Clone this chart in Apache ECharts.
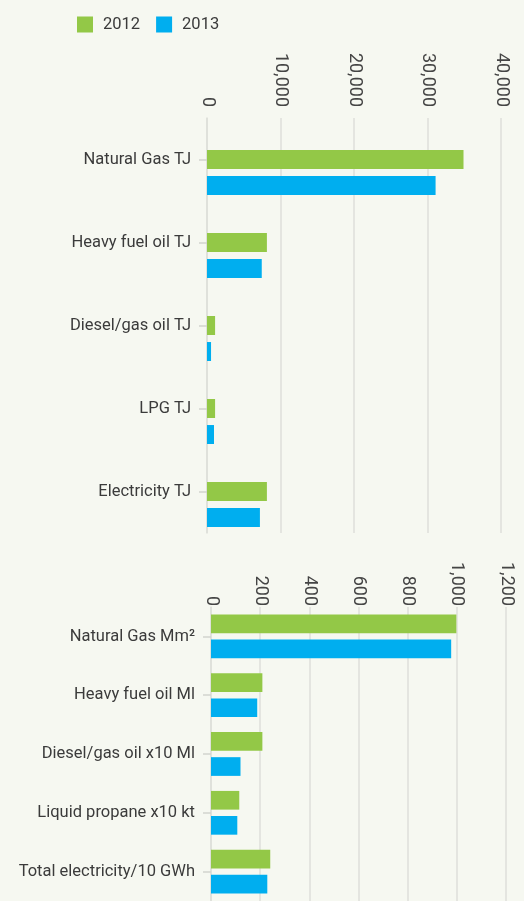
<!DOCTYPE html>
<html>
<head>
<meta charset="utf-8">
<script src="https://cdn.jsdelivr.net/npm/echarts@6/dist/echarts.min.js"></script>
<style>
html,body{margin:0;padding:0;background:#f6f8f1;}
#chart{width:524px;height:901px;}
</style>
</head>
<body>
<div id="chart"></div>
<script>
// ---- data ----
var seriesNames = ['2012', '2013'];
var topCategories = ['Natural Gas TJ', 'Heavy fuel oil TJ', 'Diesel/gas oil TJ', 'LPG TJ', 'Electricity TJ'];
var top2012 = [34900, 8150, 1100, 1100, 8150];
var top2013 = [31100, 7450, 550, 950, 7200];
var topTicks = [0, 10000, 20000, 30000, 40000];

var bottomCategories = ['Natural Gas Mm\u00b2', 'Heavy fuel oil Ml', 'Diesel/gas oil x10 Ml', 'Liquid propane x10 kt', 'Total electricity/10 GWh'];
var bottom2012 = [998, 209, 209, 115, 241];
var bottom2013 = [977, 188, 120, 107, 229];
var bottomTicks = [0, 200, 400, 600, 800, 1000, 1200];

// ---- styles ----
var GREEN = '#93c847';
var BLUE = '#00aeef';
var GRID_LINE = '#dedfda';
var FONT = 'Roboto';

function fmt(v){ return String(v).replace(/\B(?=(\d{3})+(?!\d))/g, ','); }

function valueAxis(gridIndex, ticks, margin){
  return {
    type: 'value', gridIndex: gridIndex, position: 'top',
    min: ticks[0], max: ticks[ticks.length-1], interval: ticks[1]-ticks[0],
    axisLine: {show:false}, axisTick: {show:false},
    splitLine: {show:true, lineStyle:{color:GRID_LINE, width:1.5}},
    axisLabel: {rotate:90, margin:margin, fontSize:18, fontFamily:FONT, color:'#454545', formatter: fmt}
  };
}
function catAxis(gridIndex, cats){
  return {
    type: 'category', gridIndex: gridIndex, inverse: true, data: cats,
    axisLine: {show:true, lineStyle:{color:GRID_LINE, width:1.5}},
    axisTick: {show:true, length:8, alignWithLabel:true, lineStyle:{color:'#d2d3ce', width:1.5}},
    axisLabel: {margin:16, fontSize:16.5, fontFamily:FONT, color:'#3b3b3b'}
  };
}

var chart = echarts.init(document.getElementById('chart'), null, {renderer:'canvas'});
chart.setOption({
  backgroundColor: '#f6f8f1',
  animation: false,
  legend: {
    data: seriesNames, left: 77, top: 16, padding: 0,
    itemWidth: 16, itemHeight: 16, itemGap: 16, icon: 'rect',
    textStyle: {fontSize:16.5, fontFamily:FONT, color:'#3b3b3b', padding:[0,0,0,5]}
  },
  grid: [
    {left: 207, right: 23, top: 118, height: 415, containLabel:false},
    {left: 211, right: 18, top: 607, height: 306, containLabel:false}
  ],
  xAxis: [valueAxis(0, topTicks, 11), valueAxis(1, bottomTicks, 1)],
  yAxis: [catAxis(0, topCategories), catAxis(1, bottomCategories)],
  series: [
    {name:'pad', type:'bar', xAxisIndex:0, yAxisIndex:0, data: topCategories.map(function(){return null;}), barWidth:19, barGap:'37%', silent:true},
    {name:seriesNames[0], type:'bar', xAxisIndex:0, yAxisIndex:0, data: top2012, barWidth:19, barGap:'37%', itemStyle:{color:GREEN}},
    {name:seriesNames[1], type:'bar', xAxisIndex:0, yAxisIndex:0, data: top2013, barWidth:19, barGap:'37%', itemStyle:{color:BLUE}},
    {name:seriesNames[0], type:'bar', xAxisIndex:1, yAxisIndex:1, data: bottom2012, barWidth:18.7, barGap:'34%', itemStyle:{color:GREEN}},
    {name:seriesNames[1], type:'bar', xAxisIndex:1, yAxisIndex:1, data: bottom2013, barWidth:18.7, barGap:'34%', itemStyle:{color:BLUE}}
  ]
});
</script>
</body>
</html>
